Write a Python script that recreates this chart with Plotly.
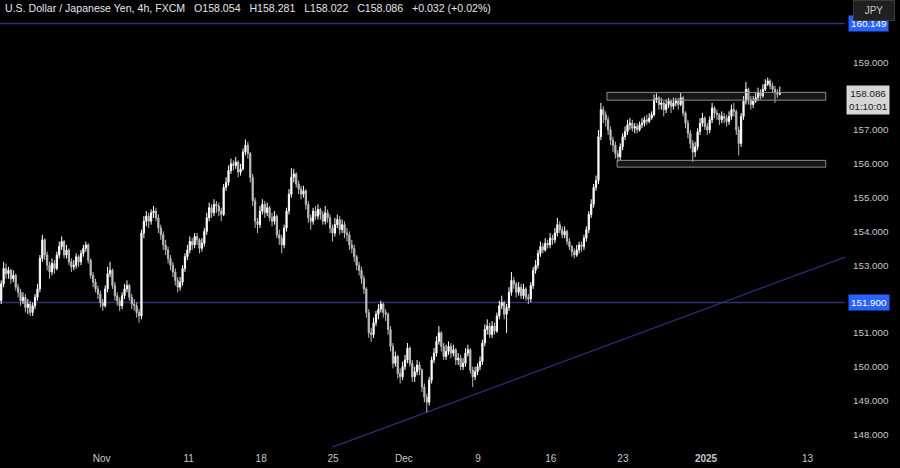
import plotly.graph_objects as go

# ---------------- data (4h candles) ----------------
closes = [
    152.45, 152.9, 152.75, 152.85, 152.6, 152.7, 152.35, 152.2, 151.95, 152.05,
    151.75, 151.85, 151.6, 151.8, 152.05, 152.3, 153.2, 153.75, 153.3, 153.0,
    152.8, 153.05, 152.9, 153.3, 153.55, 153.7, 153.3, 153.45, 153.1, 152.95,
    153.0, 153.25, 153.1, 153.35, 153.5, 153.6, 153.15, 152.7, 152.5, 152.3,
    152.15, 151.9, 151.8, 152.3, 152.75, 152.85, 152.4, 152.1, 151.95, 151.8,
    152.1, 152.3, 152.4, 152.05, 151.85, 151.8, 151.6, 151.5, 153.95, 154.3,
    154.45, 154.3, 154.55, 154.6, 154.4, 154.1, 153.9, 153.6, 153.45, 153.2,
    153.0, 152.8, 152.55, 152.35, 152.5, 152.9, 153.25, 153.45, 153.7, 153.6,
    153.85, 153.75, 153.5, 153.65, 154.0, 154.4, 154.7, 154.55, 154.8, 154.75,
    154.6, 154.5, 155.3, 155.45, 155.8, 156.0, 155.95, 156.05, 155.75, 155.85,
    156.35, 156.55, 156.3, 155.6, 154.9, 154.3, 154.2, 154.6, 154.8, 154.55,
    154.7, 154.4, 154.3, 154.45, 153.9, 153.8, 153.6, 154.1, 154.6, 155.1,
    155.6, 155.7, 155.4, 155.25, 155.1, 155.2, 154.8, 154.4, 154.3, 154.6,
    154.45, 154.65, 154.5, 154.3, 154.55, 154.4, 154.1, 153.95, 154.2, 154.35,
    154.05, 154.2, 153.95, 153.9, 153.6, 153.5, 153.25, 153.0, 152.85, 152.6,
    152.3, 151.6, 151.0, 150.95, 151.3, 151.55, 151.7, 151.85, 151.6, 151.55,
    151.1, 150.6, 150.1, 150.3, 149.8, 149.7, 150.0, 150.2, 150.55, 150.1,
    149.7, 149.85, 150.05, 149.9, 149.4, 149.1, 148.95, 149.6, 150.2, 150.4,
    150.75, 151.0, 150.6, 150.3, 150.45, 150.6, 150.4, 150.5, 150.2, 150.25,
    150.0, 150.1, 150.4, 150.5, 149.9, 149.7, 149.85, 150.0, 150.15, 150.7,
    151.1, 151.2, 150.95, 151.2, 151.05, 151.5, 151.8, 151.9, 151.55, 151.75,
    152.2, 152.55, 152.45, 152.2, 152.35, 152.1, 152.3, 152.05, 152.0, 152.4,
    152.85, 153.0, 153.35, 153.55, 153.45, 153.65, 153.6, 153.8, 153.75, 153.95,
    154.2, 154.05, 153.9, 154.0, 153.7, 153.55, 153.4, 153.3, 153.45, 153.6,
    153.55, 153.8, 154.05, 154.5, 154.8, 155.3, 155.5, 156.8, 157.6, 157.45,
    157.3, 157.0, 156.7, 156.55, 156.3, 156.2, 156.5, 156.8, 156.95, 157.15,
    157.2, 157.05, 157.1, 157.0, 157.15, 157.2, 157.3, 157.25, 157.35, 157.45,
    157.9, 157.95, 157.75, 157.8, 157.6, 157.75, 157.85, 157.7, 157.8, 157.85,
    157.75, 157.95, 157.5, 157.2, 156.9, 156.6, 156.35, 156.5, 156.95, 157.2,
    157.35, 157.1, 157.0, 157.3, 157.65, 157.5, 157.45, 157.3, 157.4, 157.35,
    157.25, 157.4, 157.6, 157.55, 157.0, 156.6, 157.4, 157.85, 158.2, 157.9,
    157.75, 157.85, 157.95, 158.1, 158.0, 158.2, 158.35, 158.45, 158.3, 158.2,
    158.1, 158.054, 158.086,
]
highs = [
    152.55, 153.1, 153.05, 152.95, 152.9, 152.85, 152.75, 152.45, 152.3, 152.2,
    152.15, 152.0, 151.95, 151.9, 152.15, 152.45, 153.3, 153.9, 153.8, 153.4,
    153.1, 153.2, 153.15, 153.4, 153.7, 153.85, 153.75, 153.6, 153.5, 153.2,
    153.15, 153.35, 153.3, 153.45, 153.6, 153.7, 153.65, 153.2, 152.8, 152.6,
    152.4, 152.25, 152.0, 152.4, 152.95, 153.1, 152.9, 152.5, 152.2, 152.05,
    152.2, 152.45, 152.55, 152.45, 152.15, 152.0, 151.9, 151.7, 154.05, 154.45,
    154.6, 154.55, 154.65, 154.75, 154.7, 154.5, 154.2, 154.0, 153.75, 153.55,
    153.3, 153.1, 152.9, 152.65, 152.65, 153.0, 153.35, 153.6, 153.85, 153.8,
    153.95, 153.95, 153.8, 153.8, 154.1, 154.55, 154.85, 154.8, 154.95, 154.9,
    154.85, 154.7, 155.4, 155.6, 155.95, 156.15, 156.1, 156.2, 156.1, 156.0,
    156.45, 156.72, 156.65, 156.35, 155.7, 155.0, 154.4, 154.75, 154.95, 154.9,
    154.85, 154.75, 154.55, 154.6, 154.5, 154.05, 153.9, 154.2, 154.7, 155.25,
    155.87, 155.85, 155.75, 155.5, 155.35, 155.35, 155.25, 154.9, 154.5, 154.7,
    154.75, 154.8, 154.7, 154.6, 154.75, 154.65, 154.5, 154.2, 154.4, 154.5,
    154.45, 154.35, 154.3, 154.1, 154.0, 153.75, 153.6, 153.3, 153.1, 152.95,
    152.7, 152.35, 151.7, 151.15, 151.45, 151.65, 151.85, 151.95, 151.9, 151.7,
    151.6, 151.2, 150.7, 150.45, 150.35, 149.95, 150.15, 150.35, 150.7, 150.6,
    150.2, 150.0, 150.2, 150.15, 149.95, 149.5, 149.2, 149.7, 150.3, 150.55,
    150.9, 151.2, 151.05, 150.7, 150.65, 150.75, 150.7, 150.65, 150.55, 150.4,
    150.35, 150.25, 150.55, 150.65, 150.55, 150.0, 150.0, 150.1, 150.3, 150.8,
    151.25, 151.4, 151.3, 151.35, 151.3, 151.6, 151.95, 152.1, 151.95, 151.85,
    152.35, 152.8, 152.65, 152.5, 152.5, 152.45, 152.45, 152.35, 152.15, 152.5,
    152.95, 153.15, 153.45, 153.7, 153.65, 153.8, 153.75, 153.95, 153.9, 154.1,
    154.4, 154.3, 154.15, 154.15, 154.05, 153.8, 153.6, 153.5, 153.6, 153.7,
    153.7, 153.9, 154.15, 154.6, 154.95, 155.4, 155.65, 157.0, 157.8, 157.7,
    157.55, 157.4, 157.1, 156.8, 156.65, 156.4, 156.6, 156.9, 157.1, 157.3,
    157.35, 157.3, 157.2, 157.2, 157.25, 157.35, 157.4, 157.45, 157.5, 157.55,
    158.05, 158.08, 158.0, 157.95, 157.85, 157.9, 157.95, 157.9, 157.95, 157.95,
    157.95, 158.1, 158.0, 157.55, 157.3, 157.0, 156.7, 156.65, 157.05, 157.35,
    157.5, 157.4, 157.2, 157.4, 157.8, 157.7, 157.6, 157.5, 157.55, 157.5,
    157.45, 157.55, 157.75, 157.8, 157.6, 157.1, 157.5, 158.0, 158.42, 158.25,
    158.0, 158.0, 158.1, 158.25, 158.2, 158.35, 158.5, 158.55, 158.5, 158.4,
    158.3, 158.2, 158.281,
]
lows = [
    151.85, 152.35, 152.6, 152.6, 152.45, 152.5, 152.25, 152.05, 151.8, 151.85,
    151.6, 151.55, 151.5, 151.5, 151.7, 151.95, 152.2, 153.1, 153.15, 152.85,
    152.6, 152.7, 152.75, 152.85, 153.2, 153.45, 153.2, 153.2, 153.0, 152.8,
    152.85, 152.9, 152.95, 153.0, 153.25, 153.4, 153.05, 152.6, 152.35, 152.2,
    152.0, 151.75, 151.65, 151.75, 152.2, 152.65, 152.3, 151.95, 151.8, 151.65,
    151.7, 152.0, 152.2, 151.95, 151.7, 151.65, 151.45, 151.3, 151.4, 153.8,
    154.15, 154.1, 154.2, 154.4, 154.3, 153.95, 153.75, 153.45, 153.3, 153.05,
    152.85, 152.65, 152.4, 152.2, 152.25, 152.4, 152.8, 153.15, 153.35, 153.45,
    153.5, 153.6, 153.35, 153.4, 153.55, 153.9, 154.3, 154.4, 154.45, 154.55,
    154.45, 154.3, 154.45, 155.2, 155.35, 155.7, 155.8, 155.85, 155.6, 155.65,
    155.8, 156.25, 156.15, 155.45, 154.75, 154.1, 153.95, 154.1, 154.5, 154.4,
    154.45, 154.3, 154.15, 154.2, 153.8, 153.6, 153.35, 153.5, 154.0, 154.5,
    155.0, 155.45, 155.3, 155.1, 154.95, 155.0, 154.65, 154.25, 154.05, 154.2,
    154.35, 154.35, 154.35, 154.2, 154.2, 154.25, 153.95, 153.7, 153.85, 154.1,
    153.9, 153.95, 153.8, 153.7, 153.45, 153.35, 153.1, 152.85, 152.7, 152.45,
    152.15, 151.45, 150.85, 150.73, 150.85, 151.2, 151.4, 151.6, 151.45, 151.35,
    150.95, 150.45, 149.95, 150.0, 149.65, 149.5, 149.6, 149.9, 150.1, 150.0,
    149.55, 149.55, 149.75, 149.75, 149.25, 148.95, 148.65, 148.85, 149.5, 150.1,
    150.3, 150.65, 150.45, 150.2, 150.2, 150.35, 150.25, 150.3, 150.05, 150.05,
    149.9, 149.9, 150.0, 150.3, 149.8, 149.4, 149.6, 149.75, 149.9, 150.05,
    150.6, 150.95, 150.85, 150.85, 150.95, 151.0, 151.4, 151.7, 151.4, 151.0,
    151.65, 152.1, 152.3, 152.05, 152.1, 152.0, 152.0, 151.95, 151.85, 151.9,
    152.3, 152.75, 152.9, 153.25, 153.35, 153.4, 153.5, 153.5, 153.6, 153.65,
    153.85, 153.95, 153.8, 153.8, 153.6, 153.45, 153.25, 153.2, 153.25, 153.35,
    153.4, 153.45, 153.7, 153.95, 154.4, 154.7, 155.2, 155.4, 156.7, 157.2,
    157.1, 156.85, 156.55, 156.35, 156.15, 156.05, 156.1, 156.4, 156.7, 156.85,
    157.0, 156.95, 156.9, 156.9, 156.95, 157.05, 157.1, 157.15, 157.2, 157.3,
    157.4, 157.8, 157.6, 157.6, 157.4, 157.5, 157.65, 157.5, 157.6, 157.7,
    157.6, 157.7, 157.4, 157.05, 156.75, 156.45, 156.05, 156.2, 156.4, 156.85,
    157.1, 157.0, 156.85, 156.9, 157.2, 157.35, 157.3, 157.15, 157.2, 157.2,
    157.1, 157.15, 157.3, 157.4, 156.85, 156.25, 156.5, 157.3, 157.75, 157.75,
    157.6, 157.65, 157.8, 157.85, 157.9, 157.95, 158.15, 158.3, 158.2, 158.1,
    157.8, 157.95, 158.022,
]
first_open = 151.95
opens = [first_open] + closes[:-1]
opens[-1] = 158.054
candle_index = list(range(len(closes)))

# x-axis date labels (positions in candle units)
tick_labels = ["Nov", "11", "18", "25", "Dec", "9", "16", "23", "<b>2025</b>", "13"]
tick_positions = [41.5, 77.5, 107.5, 137.2, 166.5, 197.2, 227.3, 257.1, 291.5, 333.5]

# price axis ticks (158 and 152 are covered by the price / level labels)
price_ticks = [148, 149, 150, 151, 153, 154, 155, 156, 157, 159]

# drawn levels / objects
support_level = 151.900
top_level = 160.149
last_price = 158.086
countdown = "01:10:01"
trend_x = [137.0, 349.0]
trend_y = [147.62, 153.24]
upper_box = dict(x=[250.5, 341.0], y=[157.88, 158.11])
lower_box = dict(x=[254.7, 341.0], y=[155.90, 156.10])

title_text = ("U.S. Dollar / Japanese Yen, 4h, FXCM&nbsp;&nbsp; O158.054&nbsp;&nbsp; H158.281&nbsp;&nbsp; "
              "L158.022&nbsp;&nbsp; C158.086&nbsp;&nbsp; +0.032 (+0.02%)")

# ---------------- figure ----------------
FONT = "Liberation Sans, Arial, sans-serif"
LEVEL_COLOR = "#2c3278"

fig = go.Figure()
fig.add_trace(go.Candlestick(
    x=candle_index, open=opens, high=highs, low=lows, close=closes,
    increasing=dict(line=dict(color="#ffffff", width=1), fillcolor="#ffffff"),
    decreasing=dict(line=dict(color="#bdbdbd", width=1), fillcolor="#bdbdbd"),
    whiskerwidth=0, showlegend=False, hoverinfo="skip",
))

shapes = []
shapes.append(dict(type="line", xref="paper", x0=0, x1=1, yref="y",
                   y0=support_level, y1=support_level,
                   line=dict(color=LEVEL_COLOR, width=1.5), layer="below"))
shapes.append(dict(type="line", xref="paper", x0=0, x1=1, yref="y",
                   y0=top_level, y1=top_level,
                   line=dict(color=LEVEL_COLOR, width=1.5), layer="below"))
shapes.append(dict(type="line", xref="x", yref="y",
                   x0=trend_x[0], y0=trend_y[0], x1=trend_x[1], y1=trend_y[1],
                   line=dict(color=LEVEL_COLOR, width=1.2), layer="below"))
for b in (upper_box, lower_box):
    shapes.append(dict(type="rect", xref="x", yref="y",
                       x0=b["x"][0], x1=b["x"][1], y0=b["y"][0], y1=b["y"][1],
                       line=dict(color="#8c8c8c", width=1),
                       fillcolor="rgba(120,120,120,0.18)", layer="above"))

annotations = [
    dict(text=title_text, xref="paper", yref="paper", x=0.004, y=1.0,
         xanchor="left", yanchor="top", yshift=0, showarrow=False,
         font=dict(family=FONT, size=10.6, color="#e6e6e6")),
    dict(text=f"{support_level:.3f}", xref="paper", yref="y", x=1, y=support_level,
         xanchor="left", yanchor="middle", xshift=3, showarrow=False,
         bgcolor="#2962ff", borderpad=2,
         font=dict(family=FONT, size=9.8, color="#ffffff")),
    dict(text=f"{top_level:.3f}", xref="paper", yref="y", x=1, y=top_level,
         xanchor="left", yanchor="middle", xshift=3, showarrow=False,
         bgcolor="#2962ff", borderpad=2,
         font=dict(family=FONT, size=9.8, color="#ffffff")),
    dict(text=f"{last_price:.3f}<br>{countdown}", xref="paper", yref="y", x=1, y=last_price,
         xanchor="left", yanchor="top", xshift=1, yshift=8, showarrow=False,
         bgcolor="#d6d6d6", borderpad=2, align="center",
         font=dict(family=FONT, size=9.8, color="#1a1a1a")),
    dict(text="JPY", xref="paper", yref="paper", x=1, y=1.0,
         xanchor="left", yanchor="top", xshift=8, showarrow=False,
         bgcolor="#202020", bordercolor="#3a3a3a", borderwidth=1, borderpad=4,
         width=32, font=dict(family=FONT, size=10, color="#c8c8c8")),
]

fig.update_layout(
    width=900, height=468,
    margin=dict(l=0, r=55, t=0, b=20),
    paper_bgcolor="#000000", plot_bgcolor="#000000",
    shapes=shapes, annotations=annotations,
    xaxis=dict(range=[-0.5, 348.96], rangeslider=dict(visible=False),
               tickmode="array", tickvals=tick_positions, ticktext=tick_labels,
               showgrid=False, zeroline=False, showline=False, ticks="",
               ticklabelstandoff=3,
               tickfont=dict(family=FONT, size=10, color="#c8c8c8")),
    yaxis=dict(range=[147.595, 160.842], side="right",
               tickmode="array", tickvals=price_ticks,
               ticktext=[f"{v:.3f}" for v in price_ticks],
               showgrid=False, zeroline=False, showline=False, ticks="",
               ticklabelstandoff=7,
               tickfont=dict(family=FONT, size=9.8, color="#c8c8c8")),
    hovermode=False,
)

fig.write_html("out.html", config=dict(displayModeBar=False),
               post_script="document.body.style.margin='0';document.body.style.background='#000';")
